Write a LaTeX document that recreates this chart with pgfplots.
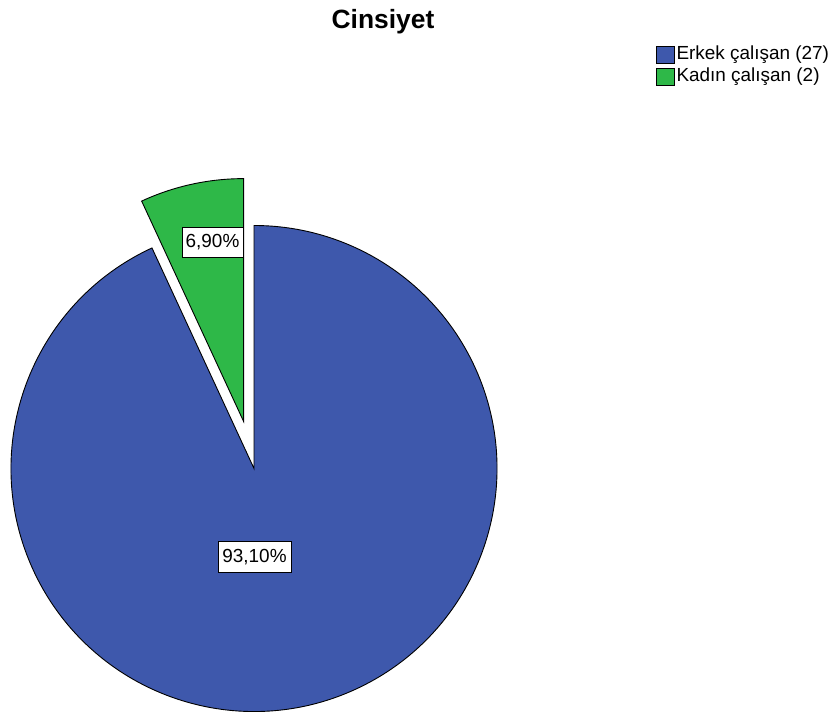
\documentclass[border=0pt]{standalone}
\usepackage{pgfplots}
\pgfplotsset{compat=1.18}
\usepackage{pgfplotstable}
\usepackage{fontspec}
\setmainfont{Liberation Sans}
\definecolor{spssblue}{HTML}{3E58AC}
\definecolor{spssgreen}{HTML}{2EB848}
\pgfplotstableread{
label value
Erkek 27
Kadin 2
}\datatable
\begin{document}
\begin{tikzpicture}
\pgfplotstablegetelem{0}{value}\of\datatable \let\vA\pgfplotsretval
\pgfplotstablegetelem{1}{value}\of\datatable \let\vB\pgfplotsretval
\pgfmathsetmacro\tot{\vA+\vB}
\pgfmathsetmacro\angB{360*\vB/\tot}
\pgfmathsetmacro\midB{90+\angB/2}
\pgfmathsetmacro\endB{90+\angB}
\pgfmathsetmacro\pA{100*\vA/\tot}
\pgfmathsetmacro\pB{100*\vB/\tot}
\begin{axis}[scale only axis, width=838bp, height=716bp,
  xmin=0, xmax=838, ymin=0, ymax=716, hide axis, clip=false,
  legend style={at={(axis cs:656,672)}, anchor=north west, draw=none, fill=none,
    inner sep=0pt, font=\fontsize{19}{21}\selectfont,
    nodes={inner sep=1.5bp, anchor=west, text height=14bp, text depth=4bp}, row sep=1bp},
  legend cell align=left,
  legend image code/.code={\draw[#1] (0bp,-8.5bp) rectangle (18bp,8.5bp);},
]
\addlegendimage{fill=spssblue, draw=black, line width=0.8bp}
\addlegendentry{Erkek çalışan (27)}
\addlegendimage{fill=spssgreen, draw=black, line width=0.8bp}
\addlegendentry{Kadın çalışan (2)}
\filldraw[fill=spssblue, draw=black, line width=0.9bp] (axis cs:254,247.5) -- ++(\endB:243bp) arc[start angle=\endB, end angle=450, radius=243bp] -- cycle;
\filldraw[fill=spssgreen, draw=black, line width=0.9bp] (axis cs:254,247.5) ++(\midB:48bp) -- ++(90:243bp) arc[start angle=90, end angle=\endB, radius=243bp] -- cycle;
\node[draw=black, fill=white, line width=0.8bp, font=\fontsize{19}{21}\selectfont, inner sep=0pt, minimum width=61bp, minimum height=30bp] at (axis cs:212.5,474) {\pgfmathprintnumber[fixed, fixed zerofill, precision=2, use comma, assume math mode=true]{\pB}\%};
\node[draw=black, fill=white, line width=0.8bp, font=\fontsize{19}{21}\selectfont, inner sep=0pt, minimum width=73bp, minimum height=31bp] at (axis cs:254.5,159) {\pgfmathprintnumber[fixed, fixed zerofill, precision=2, use comma, assume math mode=true]{\pA}\%};
\node[font=\bfseries\fontsize{26.5}{30}\selectfont] at (axis cs:383,694) {Cinsiyet};
\end{axis}
\pgfresetboundingbox
\path (current axis.south west) rectangle (current axis.north east);
\end{tikzpicture}
\end{document}
